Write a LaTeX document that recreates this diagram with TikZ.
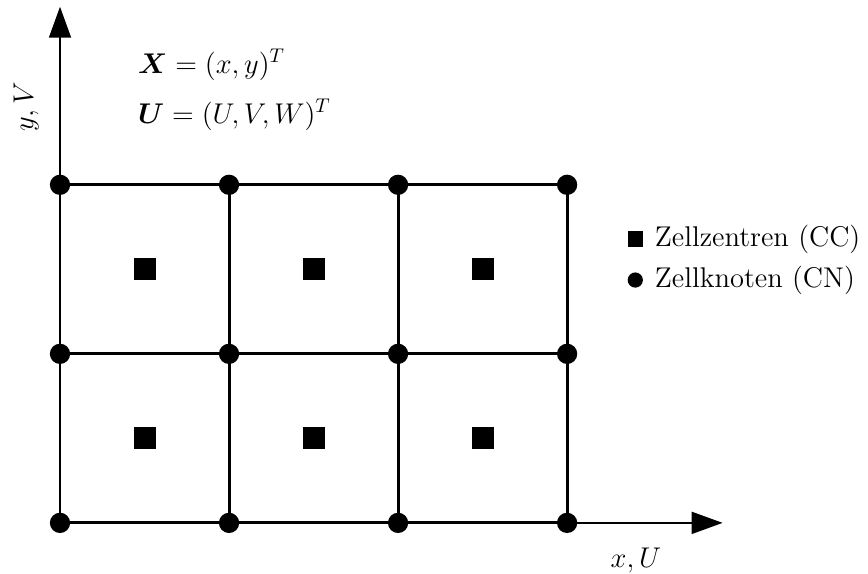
\documentclass[tikz,border=0pt]{standalone}
\usepackage{amsmath,amssymb,bm}
\usepackage{tikz}
\usetikzlibrary{positioning, arrows.meta}

\begin{document}
\begin{tikzpicture}[
        font=\Large,
        cellnode/.style={
            circle, fill=black, inner sep=0pt, minimum size=0.36cm
        },
        cellcenter/.style={
            rectangle, fill=black, inner sep=0pt, minimum size=0.39cm
        },
        gridline/.style={draw=black, line width=1.5pt},
        axis/.style={draw=black, line width=1pt, -{Triangle[length=0.55cm, width=0.39cm]}}
    ]

    \useasboundingbox (-1.065, -0.905) rectangle (14.34, 9.28);

    % AXES
    \coordinate (origin) at (0, 0);
    \coordinate (xend) at (11.76, 0);
    \coordinate (yend) at (0, 9.16);
    \draw[axis] (origin) -- (xend);
    \draw[axis] (origin) -- (yend);

    \node (xlabel) at (10.22, -0.66) {$x, U$};
    \node[rotate=90] (ylabel) at (-0.6, 7.38) {$y, V$};

    % DEFINITIONS
    \node[anchor=west, inner sep=0pt] (defx) at (1.38, 8.13) {$\bm{X} = (x, y)^T$};
    \node[anchor=west, inner sep=0pt] (defu) at (1.38, 7.24) {$\bm{U} = (U, V, W)^T$};

    % GRID LINES
    \foreach \j in {0,...,2} {
        \draw[gridline] (0, 3*\j) -- (9, 3*\j);
    }
    \foreach \i in {0,...,3} {
        \draw[gridline] (3*\i, 0) -- (3*\i, 6);
    }

    % CELL NODES (CN)
    \foreach \i in {0,...,3} {
        \foreach \j in {0,...,2} {
            \node[cellnode] (cn\i\j) at (3*\i, 3*\j) {};
        }
    }

    % CELL CENTERS (CC)
    \foreach \i in {0,...,2} {
        \foreach \j in {0,...,1} {
            \node[cellcenter] (cc\i\j) at (3*\i+1.5, 3*\j+1.5) {};
        }
    }

    % LEGEND
    \node[cellcenter, minimum size=0.27cm] (legcc) at (10.21, 5.04) {};
    \node[right=0.08cm of legcc] (legcctext) {Zellzentren (CC)};
    \node[cellnode, minimum size=0.27cm] (legcn) at (10.21, 4.31) {};
    \node[right=0.08cm of legcn] (legcntext) {Zellknoten (CN)};

\end{tikzpicture}
\end{document}
